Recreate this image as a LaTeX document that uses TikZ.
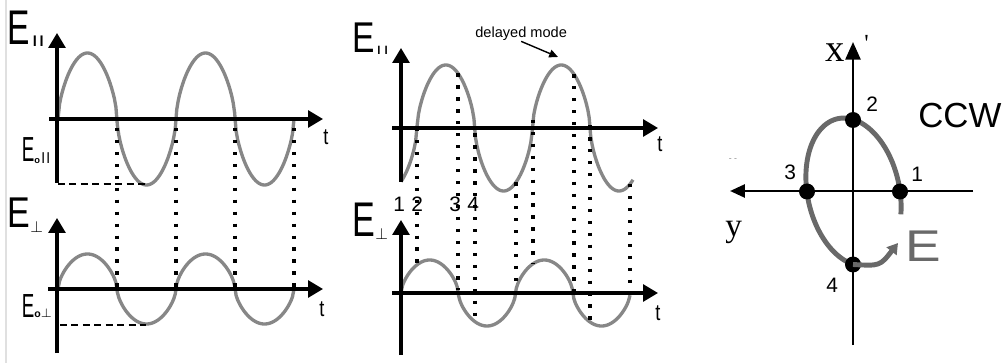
\documentclass[tikz,border=0pt]{standalone}
\usepackage{fontspec}
\setmainfont{Liberation Sans}
\newfontfamily\timesfont{Liberation Serif}
\usetikzlibrary{arrows.meta}
\definecolor{wavegray}{RGB}{135,135,135}
\definecolor{ellgray}{RGB}{105,105,105}

\begin{document}
\begin{tikzpicture}[x=0.2mm,y=-0.2mm,
  declare function={rs(\a)=sign(sin(\a))*pow(abs(sin(\a))+0.000001,0.6);},
  axis/.style={line width=1.8pt,-{Triangle[length=8.5pt,width=9.6pt]}},
  wave/.style={wavegray,line width=1.9pt},
  dotline/.style={line width=1.9pt,dash pattern=on 1.9pt off 4.9pt},
  dashline/.style={line width=1.1pt,dash pattern=on 4pt off 2.5pt},
  lbl/.style={anchor=base west,inner sep=0pt},
  dot/.style={circle,fill=black,inner sep=0pt,minimum size=3.2mm}]
\useasboundingbox (0,0) rectangle (1007,363);
\draw[black!12,line width=0.6pt] (6,0) -- (6,363);
% ---------- left: in phase ----------
\draw[wave] plot[domain=58:294,samples=160] (\x,{119-66*rs((\x-58)/59*180)});
\draw[wave] plot[domain=58:294,samples=160] (\x,{289-35*rs((\x-58)/59*180)});
\foreach \xx in {117,176,235,294}
  \draw[dotline] (\xx,128) -- (\xx,289);
\draw[dashline] (58,184) -- (146,184);
\draw[dashline] (60,325) -- (146,325);
\draw[axis] (57,183) -- (57,33);
\draw[axis] (49,119) -- (323,119);
\draw[axis] (57,353) -- (57,218);
\draw[axis] (48,289) -- (323,289);
\node[lbl] (Epar) at (7.4,45) {\scalebox{0.69}[1]{\fontsize{27.7}{28}\selectfont E}\hspace{1.6pt}\raisebox{-1.1pt}{\fontsize{8.3}{9}\selectfont\bfseries l\hspace{1.5pt}l}};
\node[lbl] (Eperp) at (7.4,228) {\scalebox{0.79}[1]{\fontsize{24.5}{25}\selectfont E}\raisebox{-2.8pt}{\fontsize{8.7}{9}\selectfont$\perp$}};
\node[lbl] (Eopar) at (21.5,162) {\scalebox{0.54}[1]{\fontsize{19.8}{20}\selectfont E}\raisebox{-0.6pt}{\fontsize{5.3}{6}\selectfont\bfseries o}\hspace{0.9pt}\raisebox{-0.6pt}{\fontsize{8.5}{9}\selectfont l\hspace{0.9pt}l}};
\node[lbl] (Eoperp) at (21.6,318) {\scalebox{0.56}[1]{\fontsize{19}{20}\selectfont E}{\fontsize{6}{6}\selectfont\bfseries o}{\fontsize{7.3}{8}\selectfont$\perp$}};
\node[lbl] (t1) at (323,145) {\scalebox{0.8}[1]{\fontsize{13}{13}\selectfont t}};
\node[lbl] (t2) at (319,317) {\scalebox{0.8}[1]{\fontsize{13}{13}\selectfont t}};
% ---------- middle: delayed mode ----------
\draw[wave] plot[domain=401:633,samples=160] (\x,{128-63*rs((\x-417)/57.7*180)});
\draw[wave] plot[domain=401:630,samples=160] (\x,{293-33*rs((\x-401)/57.3*180)});
\foreach \p in {417,458,475,516,533,574,590,630}
  \draw[dotline] (\p,{128-63*rs((\p-417)/57.7*180)}) -- (\p,{293-33*rs((\p-401)/57.3*180)});
\draw[axis] (401,182) -- (401,48);
\draw[axis] (392,128) -- (658,128);
\draw[axis] (401,355) -- (401,220);
\draw[axis] (392,293) -- (658,293);
\node[lbl] (Epar2) at (352.4,53) {\scalebox{0.78}[1]{\fontsize{24.5}{25}\selectfont E}\hspace{1.3pt}\raisebox{-1.1pt}{\fontsize{6.5}{7}\selectfont\bfseries l\hspace{2.3pt}l}};
\node[lbl] (Eperp2) at (352.4,237) {\scalebox{0.70}[1]{\fontsize{27.7}{28}\selectfont E}\raisebox{-1.7pt}{\fontsize{9.5}{10}\selectfont$\perp$}};
\node[lbl] (t3) at (657,152) {\scalebox{0.8}[1]{\fontsize{13}{13}\selectfont t}};
\node[lbl] (t4) at (655,320) {\scalebox{0.8}[1]{\fontsize{13}{13}\selectfont t}};
\node[lbl] (n1) at (393,212) {\fontsize{11.9}{12}\selectfont 1};
\node[lbl] (n2) at (411,212) {\fontsize{11.9}{12}\selectfont 2};
\node[lbl] (n3) at (449,212) {\fontsize{11.9}{12}\selectfont 3};
\node[lbl] (n4) at (467,212) {\fontsize{11.9}{12}\selectfont 4};
\node[lbl] (delay) at (475,38) {\fontsize{8.3}{9}\selectfont delayed mode};
\coordinate (delaytip) at (558,57);
\draw[line width=0.8pt,-{Triangle[length=5pt,width=4.5pt]}] (delay.south) -- (delaytip);
% ---------- right: polarisation ellipse ----------
\draw[ellgray,line width=2.8pt] plot[domain=-25:251,samples=100]
  ({853.5+46*cos(\x)*0.978-75*sin(\x)*0.208},{192-46*cos(\x)*0.208-75*sin(\x)*0.978});
\draw[line width=1.5pt,-{Triangle[length=10pt,width=8.5pt]}] (853,345) -- (853,42);
\draw[line width=1.5pt,-{Triangle[length=8.5pt,width=7.4pt]}] (973,191) -- (730,191);
\node[dot] (p1) at (900,191.5) {};
\node[dot] (p2) at (853,120) {};
\node[dot] (p3) at (807,191.5) {};
\node[dot] (p4) at (853,264.5) {};
\coordinate (etip) at (898,243);
\draw[ellgray,line width=2.8pt,-{Triangle[length=6pt,width=7pt]}] (p4.center) .. controls (880,266) .. (etip);
\node[lbl] (l1) at (911,182) {\fontsize{11.9}{12}\selectfont 1};
\node[lbl] (l2) at (866,112) {\fontsize{11.9}{12}\selectfont 2};
\node[lbl] (l3) at (784,180) {\fontsize{11.9}{12}\selectfont 3};
\node[lbl] (l4) at (826,293) {\fontsize{11.9}{12}\selectfont 4};
\node[lbl] (xlab) at (825,62) {\timesfont\fontsize{22}{22}\selectfont x};
\node[lbl] (prime) at (864,52) {\timesfont\fontsize{14}{14}\selectfont '};
\node[lbl] (ylab) at (725,237) {\timesfont\fontsize{19}{19}\selectfont y};
\node[black!45] (ticks) at (733,160) {\fontsize{5}{5}\selectfont - -};
\node[lbl] (ccw) at (918,128) {\fontsize{19.8}{20}\selectfont CCW};
\node[lbl,ellgray] (Evec) at (905,262) {\scalebox{1.2}[1]{\fontsize{25.3}{26}\selectfont E}};
\end{tikzpicture}
\end{document}
